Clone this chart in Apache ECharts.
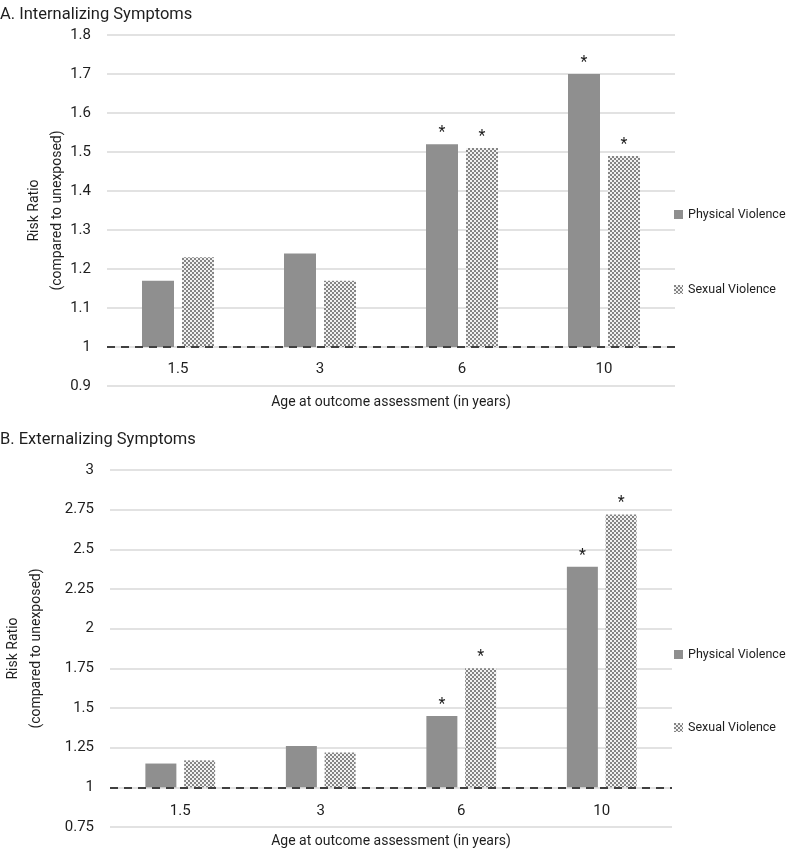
<!DOCTYPE html>
<html>
<head>
<meta charset="utf-8">
<script src="https://cdn.jsdelivr.net/npm/echarts@6/dist/echarts.min.js"></script>
<style>
html,body{margin:0;padding:0;background:#fff;}
#c{width:789px;height:852px;}
</style>
</head>
<body>
<div id="c"></div>
<script>
// ---- data ----
var categories = ['1.5', '3', '6', '10'];
var intPhysical = [1.17, 1.24, 1.52, 1.70];
var intSexual   = [1.23, 1.17, 1.51, 1.49];
var intSigPhysical = [false, false, true, true];
var intSigSexual   = [false, false, true, true];
var extPhysical = [1.15, 1.26, 1.45, 2.39];
var extSexual   = [1.17, 1.22, 1.75, 2.72];
var extSigPhysical = [false, false, true, true];
var extSigSexual   = [false, false, true, true];
var baseline = 1; // reference value (unexposed)
var titleA = 'A. Internalizing Symptoms';
var titleB = 'B. Externalizing Symptoms';
var yName = 'Risk Ratio\n(compared to unexposed)';
var xName = 'Age at outcome assessment (in years)';
var seriesNames = ['Physical Violence', 'Sexual Violence'];

// ---- styling ----
var FONT = 'Roboto, "Liberation Sans", sans-serif';
var TXT = '#1e1e1e';
var physColor = '#8f8f8f';
function makePattern() {
  var cv = document.createElement('canvas');
  cv.width = 4; cv.height = 4;
  var ctx = cv.getContext('2d');
  ctx.fillStyle = '#f2f2f2';
  ctx.fillRect(0, 0, 4, 4);
  ctx.fillStyle = '#858585';
  ctx.fillRect(0, 0, 2, 2);
  ctx.fillRect(2, 2, 2, 2);
  return cv;
}
var sexColor = { image: makePattern(), repeat: 'repeat' };

function offsets(vals) { return vals.map(function (v) { return +(v - baseline).toFixed(4); }); }
function baseArr(vals) { return vals.map(function () { return baseline; }); }

function barPair(idx, phys, sex, sigP, sigS, bw) {
  var common = { type: 'bar', xAxisIndex: idx, yAxisIndex: idx, barWidth: bw, barGap: '25%', silent: true };
  function starLabel(sig) {
    return {
      show: true, position: 'top', distance: 3,
      fontFamily: FONT, fontSize: 16, color: TXT,
      formatter: function (p) { return sig[p.dataIndex] ? '*' : ''; }
    };
  }
  return [
    Object.assign({}, common, { stack: 'p' + idx, data: baseArr(phys), itemStyle: { color: 'rgba(0,0,0,0)' } }),
    Object.assign({}, common, { name: seriesNames[0], stack: 'p' + idx, data: offsets(phys), itemStyle: { color: physColor }, label: starLabel(sigP),
      markLine: {
        silent: true, symbol: 'none', label: { show: false },
        lineStyle: { color: '#404040', type: [8, 6], width: 2 },
        data: [{ yAxis: baseline }]
      }
    }),
    Object.assign({}, common, { stack: 's' + idx, data: baseArr(sex), itemStyle: { color: 'rgba(0,0,0,0)' } }),
    Object.assign({}, common, { name: seriesNames[1], stack: 's' + idx, data: offsets(sex), itemStyle: { color: sexColor }, label: starLabel(sigS) })
  ];
}

function yAxis(idx, min, max, interval, gap) {
  return {
    type: 'value', gridIndex: idx, min: min, max: max, interval: interval,
    name: yName, nameLocation: 'middle', nameGap: gap, nameRotate: 90, nameMoveOverlap: false,
    nameTextStyle: { fontFamily: FONT, fontSize: 14, color: TXT, lineHeight: 23 },
    axisLine: { show: false }, axisTick: { show: false },
    axisLabel: { fontFamily: FONT, fontSize: 15, color: TXT, margin: 16 },
    splitLine: { lineStyle: { color: '#d9d9d9', width: 1.5 } }
  };
}
function xAxis(idx, margin, nameGap) {
  return {
    type: 'category', gridIndex: idx, data: categories,
    axisLine: { show: false }, axisTick: { show: false },
    axisLabel: { fontFamily: FONT, fontSize: 15, color: TXT, margin: margin },
    name: xName, nameLocation: 'middle', nameGap: nameGap, nameMoveOverlap: false,
    nameTextStyle: { fontFamily: FONT, fontSize: 14, color: TXT, verticalAlign: 'top' }
  };
}
function legend(name, left, top) {
  return {
    data: [name], orient: 'vertical', left: left, top: top, padding: 0,
    itemWidth: 9, itemHeight: 9, icon: 'rect', selectedMode: false,
    textStyle: { fontFamily: FONT, fontSize: 12.5, color: TXT }
  };
}

var chart = echarts.init(document.getElementById('c'), null, { renderer: 'canvas' });
chart.setOption({
  animation: false,
  backgroundColor: '#fff',
  title: [
    { text: titleA, left: 0, top: 6, padding: 0, textStyle: { fontFamily: FONT, fontSize: 16.5, fontWeight: 'normal', color: TXT } },
    { text: titleB, left: 0, top: 431, padding: 0, textStyle: { fontFamily: FONT, fontSize: 16.5, fontWeight: 'normal', color: TXT } }
  ],
  legend: [
    legend(seriesNames[0], 674, 208),
    legend(seriesNames[1], 674, 283),
    legend(seriesNames[0], 674, 648),
    legend(seriesNames[1], 674, 721)
  ],
  grid: [
    { left: 107, width: 568, top: 35, height: 351, outerBoundsMode: 'none' },
    { left: 110, width: 562, top: 470, height: 357, outerBoundsMode: 'none' }
  ],
  xAxis: [xAxis(0, -24, 9), xAxis(1, -23, 7)],
  yAxis: [yAxis(0, 0.9, 1.8, 0.1, 38), yAxis(1, 0.75, 3, 0.25, 62)],
  series: [].concat(
    barPair(0, intPhysical, intSexual, intSigPhysical, intSigSexual, 32),
    barPair(1, extPhysical, extSexual, extSigPhysical, extSigSexual, 31)
  )
});
</script>
</body>
</html>
